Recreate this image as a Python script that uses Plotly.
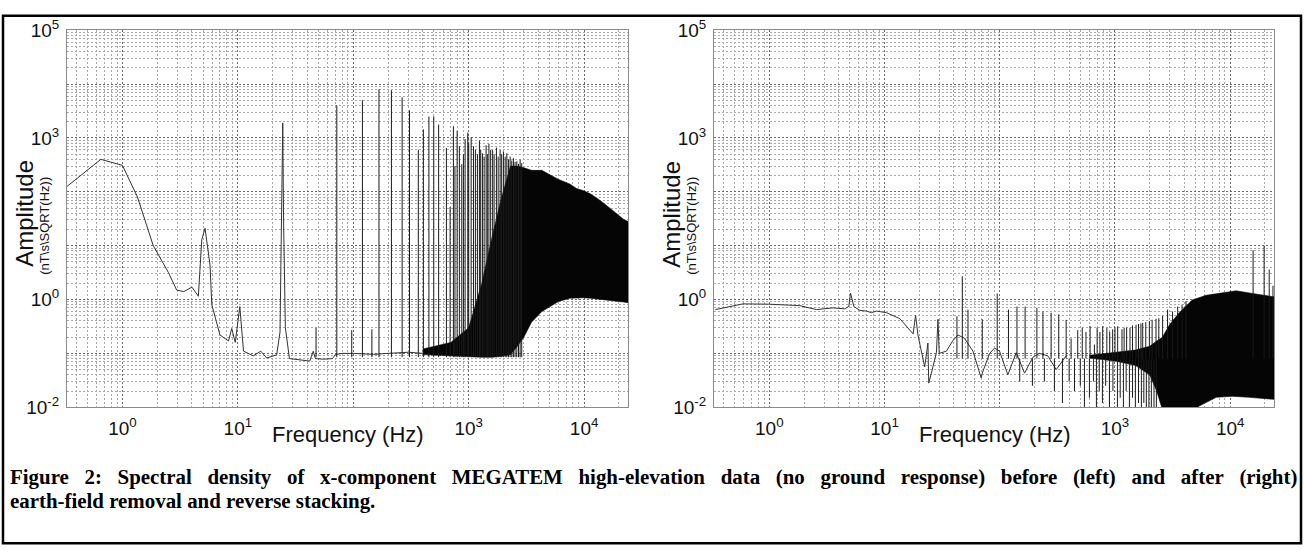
import plotly.graph_objects as go

# ---------------- left panel: before earth-field removal ----------------
# continuous spectrum (Hz, nT/s/sqrt(Hz))
left_f = [0.33, 0.65, 1.0, 1.35, 1.85, 2.5, 2.95, 3.4, 4.0, 4.55, 4.87, 5.2, 5.74, 5.95,
          7.0, 8.3, 8.85, 9.5, 10.4, 11.2, 13.6, 15.8, 17.8, 21.7, 23.2, 24.2, 24.5, 24.9,
          25.8, 28, 36, 42, 45, 47, 55, 66, 70, 80, 100, 150, 200, 300, 400]
left_amp = [125, 400, 310, 80, 10, 3.2, 1.5, 1.4, 1.7, 1.15, 13, 21, 4.4, 0.8,
            0.22, 0.17, 0.29, 0.16, 0.74, 0.11, 0.09, 0.11, 0.082, 0.094, 0.25, 60, 1900, 30,
            0.3, 0.08, 0.076, 0.072, 0.11, 0.08, 0.078, 0.08, 0.095, 0.1, 0.1, 0.096, 0.1, 0.105, 0.1]

# harmonic spikes
left_spike_f = [47.6, 72, 97, 120, 145, 167, 214, 265, 307, 366, 405, 452, 498, 549, 641, 690,
                737, 760, 794, 830, 871, 900, 931, 982, 1000, 1050, 1100, 1143, 1190, 1238, 1270,
                1315, 1360, 1415, 1450, 1497, 1550, 1612, 1660, 1738, 1800, 1872, 1930, 1999,
                2070, 2140, 2210, 2285, 2360, 2440, 2520, 2610, 2700, 2790, 2880]
left_spike_top = [0.3, 4000, 0.27, 5000, 0.28, 8000, 7700, 5700, 3260, 600, 1440, 2490, 2520, 1770,
                  653, 52, 1650, 300, 1350, 700, 326, 500, 955, 1260, 800, 1025, 700, 603, 500, 895,
                  600, 518, 450, 730, 500, 780, 600, 595, 500, 662, 450, 595, 500, 555,
                  450, 518, 400, 452, 380, 422, 360, 369, 330, 395, 340]
LEFT_FLOOR = 0.085

# densely packed harmonics drawn as a solid band
left_band_f = [400, 700, 1000, 1300, 1600, 1900, 2300, 2600, 3000, 3500, 4300, 5000, 6000,
               7500, 8600, 9900, 11300, 12900, 14700, 16800, 19200, 21900, 24000]
left_band_low = [0.095, 0.09, 0.085, 0.085, 0.085, 0.088, 0.095, 0.13, 0.2, 0.38, 0.6, 0.74, 0.92,
                 1.06, 1.08, 1.08, 1.06, 1.03, 1.0, 0.98, 0.95, 0.9, 0.87]
left_band_high = [0.12, 0.16, 0.3, 2, 15, 70, 300, 300, 280, 250, 250, 210, 170,
                  140, 115, 105, 92, 76, 62, 50, 39, 31, 28]

# ---------------- right panel: after removal and reverse stacking ----------------
right_f = [0.34, 0.59, 0.98, 1.84, 2.57, 3.58, 4.52, 4.9, 5.07, 5.41, 6.1, 6.96, 7.7, 8.5,
           10.4, 13.6, 17.7, 18.6, 19.5, 22.3, 23.8, 24.2, 25.5, 28.2, 29.1, 29.8, 34.4, 39,
           43.4, 49.5, 58.5, 69, 70.5, 81.7, 90, 99.6, 117.5, 139, 164, 194, 221, 261, 309, 377]
right_amp = [0.65, 0.83, 0.82, 0.77, 0.65, 0.7, 0.67, 0.75, 1.32, 0.745, 0.63, 0.61, 0.57, 0.61,
             0.57, 0.44, 0.23, 0.51, 0.22, 0.056, 0.156, 0.028, 0.043, 0.103, 0.43, 0.1, 0.11, 0.17,
             0.22, 0.19, 0.11, 0.035, 0.043, 0.1, 0.125, 0.11, 0.04, 0.103, 0.043, 0.085, 0.1, 0.09,
             0.05, 0.09]

right_spike_f = [42.5, 47.3, 53, 70.5, 95, 119, 141, 166, 210, 237, 279, 325, 377, 416, 475, 520,
                 560, 608, 663, 700, 740, 782, 850, 900, 955, 1000, 1055, 1150, 1200, 1262, 1350,
                 1420, 1523, 1600, 1680, 1740, 1850, 1987, 2100, 2270, 2400, 2590, 2860, 3160,
                 3500, 3820, 4130, 15800, 19700, 21800, 23500]
right_spike_top = [0.49, 2.7, 0.65, 0.43, 1.29, 0.65, 0.74, 0.74, 0.7, 0.6, 0.57, 0.53, 0.42, 0.19,
                   0.27, 0.3, 0.25, 0.32, 0.146, 0.3, 0.25, 0.32, 0.3, 0.25, 0.28, 0.3, 0.32, 0.28,
                   0.3, 0.3, 0.3, 0.33, 0.34, 0.35, 0.36, 0.37, 0.38, 0.4, 0.42, 0.44, 0.45, 0.5,
                   0.65, 0.6, 0.74, 0.8, 0.93, 8.2, 10, 3.6, 1.8]
RIGHT_FLOOR = 0.08

# downward excursions below the noise floor
right_dip_f = [149, 192, 244, 298, 350, 400, 445, 500, 543, 600, 650, 690, 730, 778, 830, 895,
               960, 1050, 1110, 1183, 1250, 1334, 1420, 1503, 1600, 1694, 1780, 1871, 1970,
               2068, 2180, 2287]
right_dip_bottom = [0.03, 0.025, 0.03, 0.02, 0.012, 0.03, 0.02, 0.025, 0.009, 0.015, 0.03, 0.009,
                    0.02, 0.012, 0.025, 0.009, 0.02, 0.009, 0.015, 0.009, 0.02, 0.009, 0.015,
                    0.009, 0.012, 0.009, 0.012, 0.009, 0.01, 0.009, 0.009, 0.009]

right_band_low_f = [600, 1000, 1500, 2000, 2300, 2580, 5000, 5380, 7570, 10400, 14600, 20500, 24000]
right_band_low = [0.082, 0.072, 0.06, 0.04, 0.02, 0.009, 0.009, 0.0105, 0.0153, 0.016,
                  0.0153, 0.0146, 0.014]
right_band_high_f = [600, 1000, 1500, 2000, 2300, 2580, 3000, 3610, 4690, 6200, 9230, 11270,
                     15500, 18900, 24000]
right_band_high = [0.092, 0.105, 0.115, 0.135, 0.17, 0.2, 0.35, 0.57, 0.98, 1.2, 1.35, 1.45, 1.3,
                   1.2, 1.12]

# ---------------- axes text ----------------
x_tickvals = [1e0, 1e1, 1e2, 1e3, 1e4]
x_ticktext = ['10<sup>0</sup>', '10<sup>1</sup>', '', '10<sup>3</sup>', '10<sup>4</sup>']
y_tickvals = [1e-2, 1e-1, 1e0, 1e1, 1e2, 1e3, 1e4, 1e5]
y_ticktext = ['10<sup>-2</sup>', '', '10<sup>0</sup>', '', '', '10<sup>3</sup>', '', '10<sup>5</sup>']

caption_1 = ('Figure 2: Spectral density of x-component MEGATEM high-elevation data '
             '(no ground response) before (left) and after (right)')
caption_2 = 'earth-field removal and reverse stacking.'

SANS = 'Liberation Sans, Arial, sans-serif'
SERIF = 'Liberation Serif, Times New Roman, serif'
W, H = 1304, 557


def spike_xy(freqs, ends, start):
    xs, ys = [], []
    for f, e in zip(freqs, ends):
        xs += [f, f, None]
        ys += [start, e, None]
    return xs, ys


def band_xy(low_f, low, high_f, high):
    return list(low_f) + list(high_f)[::-1], list(low) + list(high)[::-1]


def py(px):
    # pixel row from the top -> paper fraction
    return 1 - px / H


fig = go.Figure()

# left panel
bx, by = band_xy(left_band_f, left_band_low, left_band_f, left_band_high)
fig.add_trace(go.Scatter(x=bx, y=by, fill='toself', fillcolor='#050505', mode='lines',
                         line=dict(color='#050505', width=0.6), xaxis='x', yaxis='y'))
fig.add_trace(go.Scatter(x=left_f, y=left_amp, mode='lines',
                         line=dict(color='#333', width=1), xaxis='x', yaxis='y'))
sx, sy = spike_xy(left_spike_f, left_spike_top, LEFT_FLOOR)
fig.add_trace(go.Scatter(x=sx, y=sy, mode='lines', line=dict(color='#1a1a1a', width=1),
                         xaxis='x', yaxis='y'))

# right panel
bx, by = band_xy(right_band_low_f, right_band_low, right_band_high_f, right_band_high)
fig.add_trace(go.Scatter(x=bx, y=by, fill='toself', fillcolor='#050505', mode='lines',
                         line=dict(color='#050505', width=0.6), xaxis='x2', yaxis='y2'))
fig.add_trace(go.Scatter(x=right_f, y=right_amp, mode='lines',
                         line=dict(color='#333', width=1), xaxis='x2', yaxis='y2'))
sx, sy = spike_xy(right_spike_f, right_spike_top, RIGHT_FLOOR)
fig.add_trace(go.Scatter(x=sx, y=sy, mode='lines', line=dict(color='#1a1a1a', width=1),
                         xaxis='x2', yaxis='y2'))
dx, dy = spike_xy(right_dip_f, right_dip_bottom, RIGHT_FLOOR)
fig.add_trace(go.Scatter(x=dx, y=dy, mode='lines', line=dict(color='#1a1a1a', width=1),
                         xaxis='x2', yaxis='y2'))

grid = dict(showgrid=True, gridcolor='#6a6a6a', griddash='2px,2px', gridwidth=1,
            minor=dict(dtick='D1', showgrid=True, gridcolor='#a8a8a8', griddash='2px,2px',
                       gridwidth=1, ticks=''),
            showline=True, linecolor='#8a8a8a', linewidth=1, mirror=True, ticks='',
            zeroline=False, tickfont=dict(family=SANS, size=19, color='#111'))

x_common = dict(type='log', range=[-0.48, 4.38], tickmode='array', tickvals=x_tickvals,
                ticktext=x_ticktext, ticklabelstandoff=4, **grid)
y_common = dict(type='log', range=[-2, 5], tickmode='array', tickvals=y_tickvals,
                ticktext=y_ticktext, ticklabelstandoff=3, domain=[py(412), py(18)], **grid)

fig.update_layout(
    width=W, height=H,
    margin=dict(l=0, r=0, t=0, b=0),
    paper_bgcolor='white', plot_bgcolor='white',
    showlegend=False,
    xaxis=dict(domain=[67 / W, 628 / W], anchor='y', **x_common),
    yaxis=dict(anchor='x', **y_common),
    xaxis2=dict(domain=[714 / W, 1274 / W], anchor='y2', **x_common),
    yaxis2=dict(anchor='x2', **y_common),
)

annotations = []
for xa, ya in [('x', 'y'), ('x2', 'y2')]:
    annotations.append(dict(text='Frequency (Hz)', xref=xa, x=2, xshift=-5, xanchor='center',
                            yref='paper', y=py(440), yanchor='middle', showarrow=False,
                            font=dict(family=SANS, size=22, color='#111')))
    annotations.append(dict(text='Amplitude', xref=xa + ' domain', x=0, xshift=-42, xanchor='center',
                            yref=ya + ' domain', y=0.5, yshift=5, yanchor='middle',
                            textangle=-90, showarrow=False,
                            font=dict(family=SANS, size=24, color='#111')))
    annotations.append(dict(text='(nT\\s\\SQRT(Hz))', xref=xa + ' domain', x=0, xshift=-22,
                            xanchor='center', yref=ya + ' domain', y=0.5, yshift=-7,
                            yanchor='middle', textangle=-90, showarrow=False,
                            font=dict(family=SANS, size=13, color='#111')))

# the printed caption is justified, so its word gaps are widened
wide_gap = '&nbsp;&nbsp;&nbsp;'
annotations.append(dict(text='<b>' + caption_1.replace(' ', wide_gap) + '</b>', xref='paper',
                        x=8 / W, xanchor='left', yref='paper', y=py(485), yanchor='middle',
                        showarrow=False, font=dict(family=SERIF, size=20.9, color='black')))
annotations.append(dict(text='<b>' + caption_2 + '</b>', xref='paper', x=8 / W, xanchor='left',
                        yref='paper', y=py(510), yanchor='middle', showarrow=False,
                        font=dict(family=SERIF, size=20.9, color='black')))
fig.update_layout(annotations=annotations)

# figure frame
fig.add_shape(type='rect', xref='paper', yref='paper', x0=3 / W, x1=1301 / W,
              y0=py(554), y1=py(3), line=dict(color='black', width=2.5))

fig.write_html('out.html', config={'displayModeBar': False},
               post_script="document.body.style.margin='0px';")
